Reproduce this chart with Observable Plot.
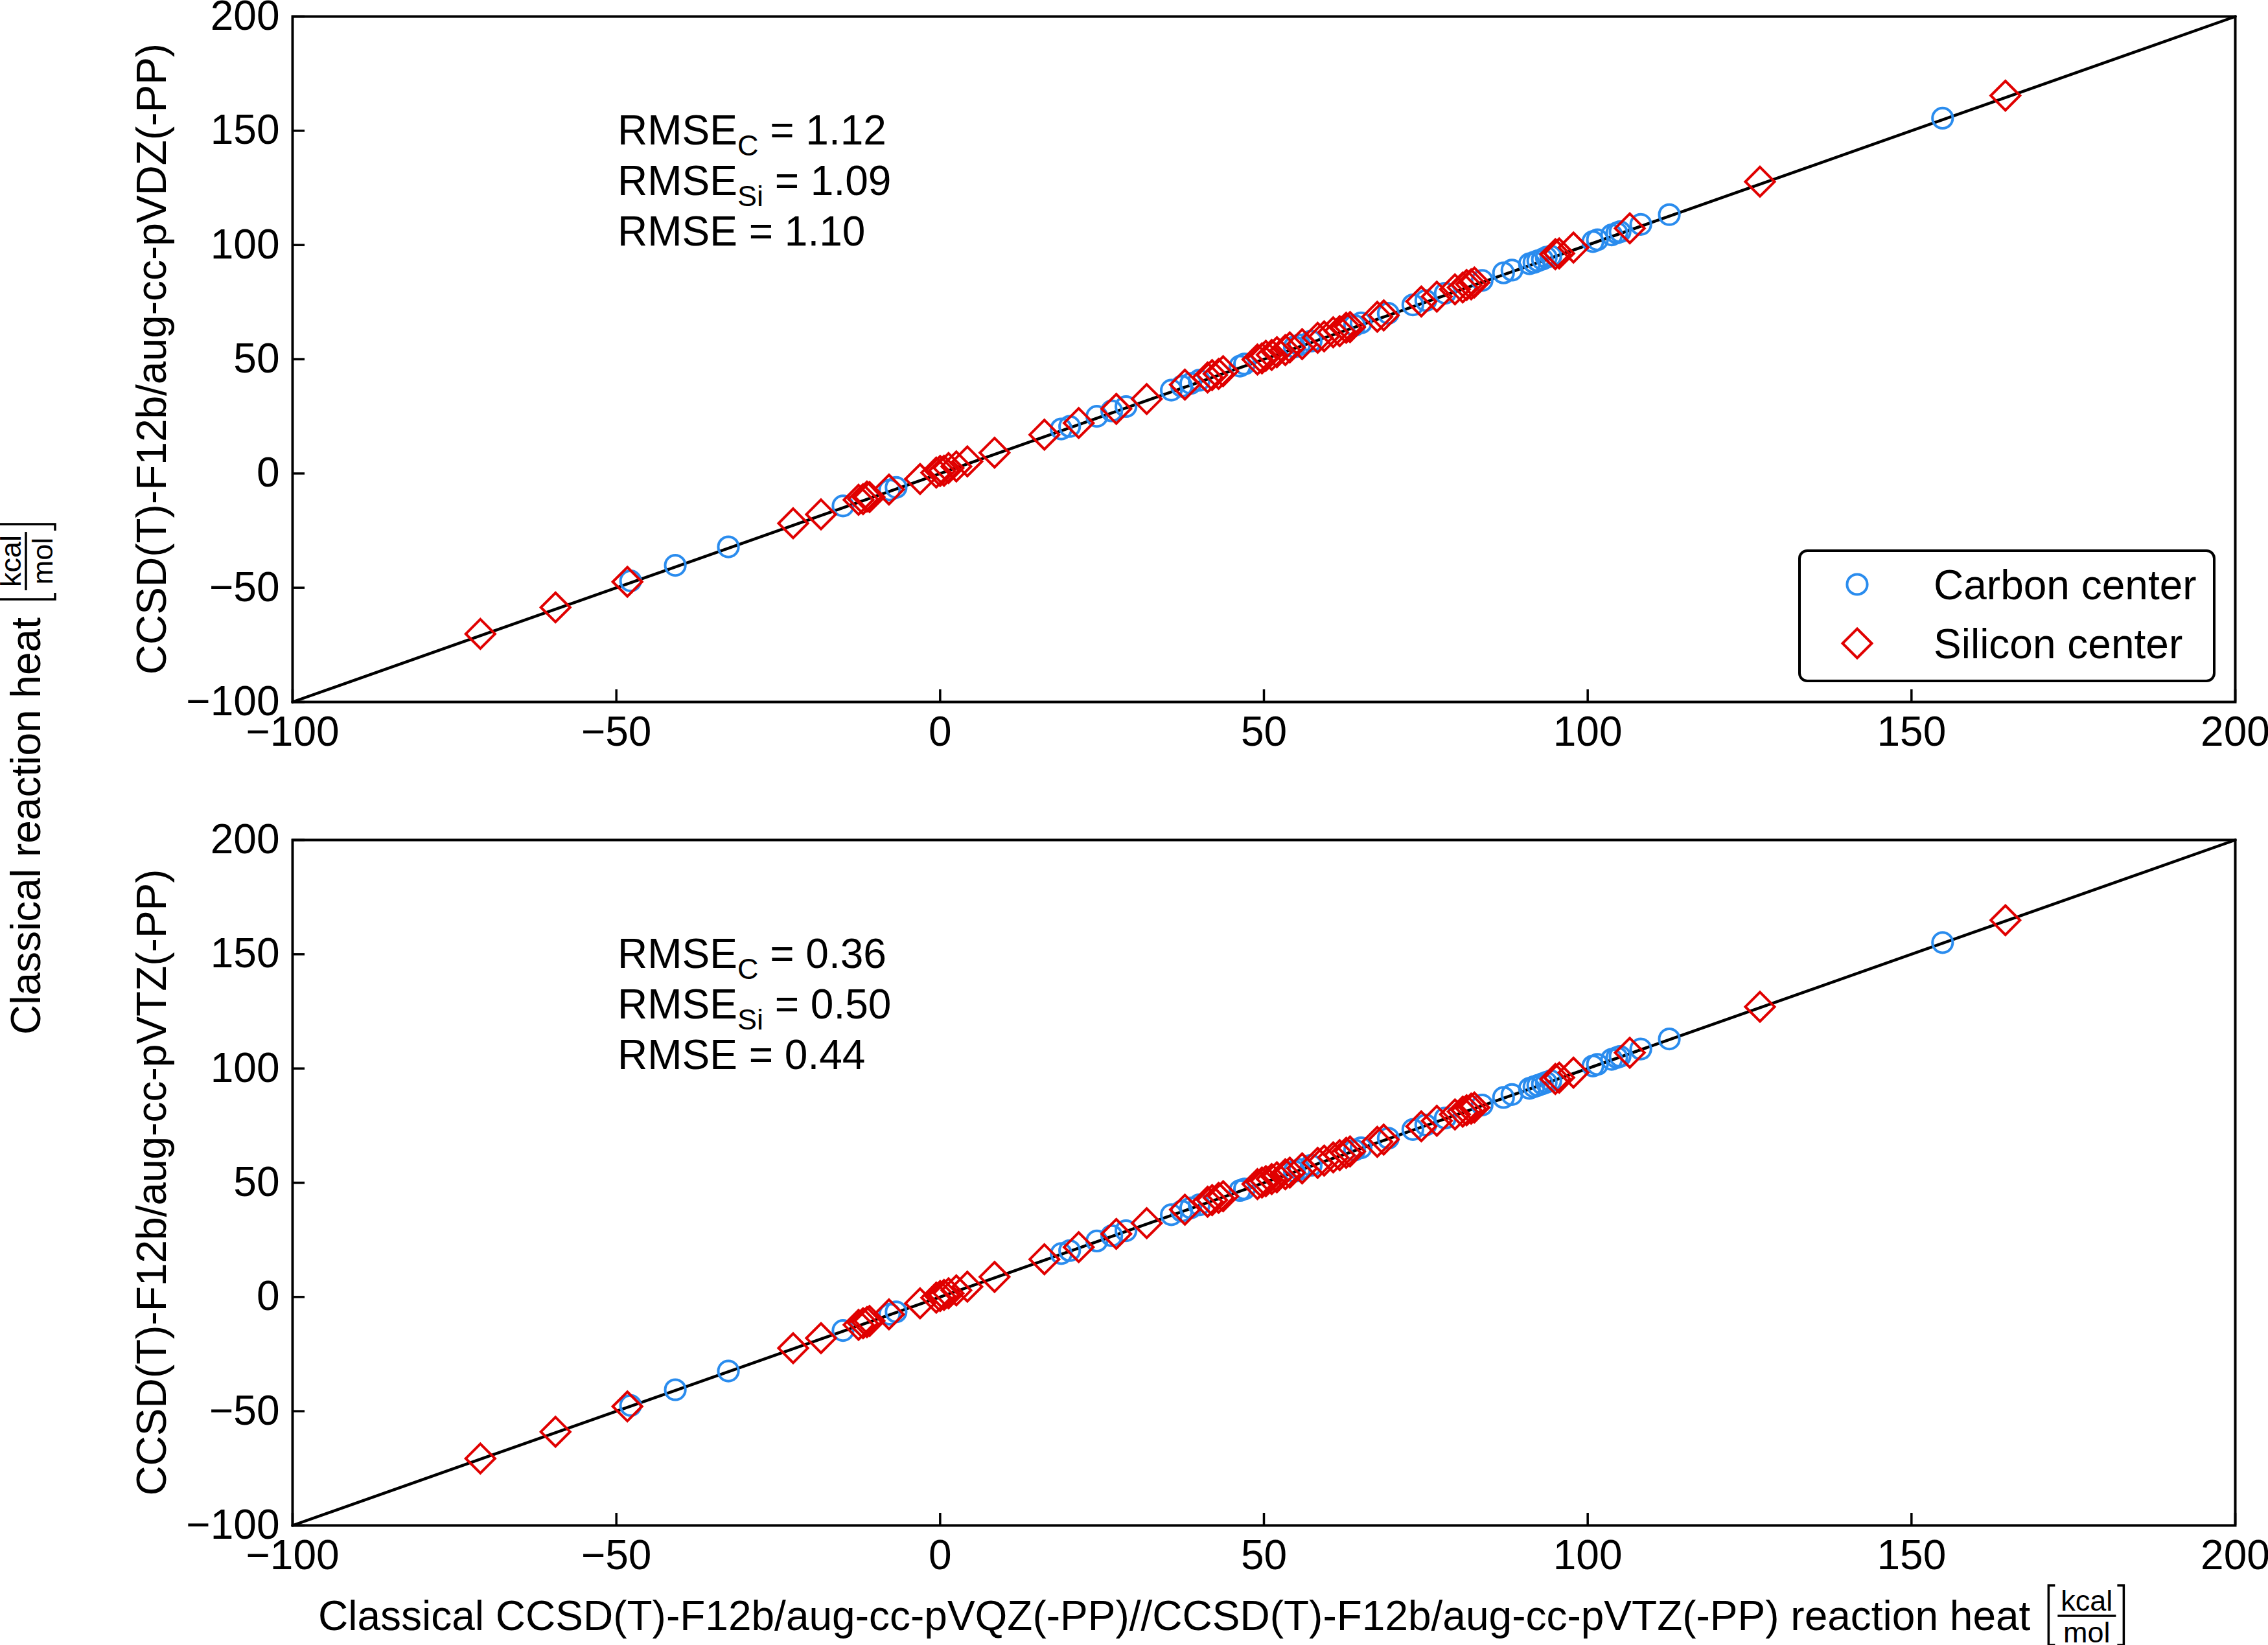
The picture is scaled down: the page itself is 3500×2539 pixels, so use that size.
<!DOCTYPE html>
<html>
<head>
<meta charset="utf-8">
<script src="https://cdn.jsdelivr.net/npm/d3@7"></script>
<script src="https://cdn.jsdelivr.net/npm/@observablehq/plot@0.6"></script>
<style>
  html, body { margin: 0; padding: 0; background: #fff; }
  #root { position: relative; width: 3500px; height: 2539px; background: #fff; }
  #root svg { position: absolute; left: 0; }
  text { white-space: pre; }
</style>
</head>
<body>
<div id="root"></div>
<script>
// ---------------- data ----------------
const axisDomain = [-100, 200];
const tickValues = [-100, -50, 0, 50, 100, 150, 200];
const seriesNames = ["Carbon center", "Silicon center"];

// reference (x) values: CCSD(T)-F12b/aug-cc-pVQZ(-PP)//aug-cc-pVTZ(-PP)
const carbonX = [-47.8, -40.9, -32.7, -15.0, -7.8, -6.8, 18.7, 20.0, 24.2, 26.5, 28.7, 35.7, 37.3, 38.7, 40.0, 46.3, 47.0, 54.7, 55.5, 57.3, 64.0, 65.0, 69.2, 73.0, 75.0, 78.0, 83.7, 87.0, 88.3, 91.0, 91.7, 92.3, 93.0, 93.6, 94.3, 100.8, 101.5, 103.7, 104.5, 105.0, 108.2, 112.6, 154.8];
// top panel: aug-cc-pVDZ(-PP)
const carbonYDZ = [-47.0, -40.2, -32.1, -14.2, -7.2, -6.1, 19.5, 20.6, 25.0, 27.4, 29.3, 36.5, 38.2, 39.4, 40.8, 47.0, 47.9, 55.4, 56.3, 58.0, 64.8, 65.9, 70.1, 73.8, 75.7, 78.9, 84.5, 87.8, 89.0, 91.8, 92.4, 93.1, 93.8, 94.6, 95.1, 101.5, 102.3, 104.4, 105.3, 105.8, 109.0, 113.3, 155.5];
// bottom panel: aug-cc-pVTZ(-PP)
const carbonYTZ = [-47.5, -40.6, -32.4, -14.7, -7.5, -6.5, 19.0, 20.3, 24.5, 26.8, 29.0, 36.0, 37.6, 39.0, 40.3, 46.6, 47.3, 55.0, 55.8, 57.6, 64.3, 65.3, 69.5, 73.3, 75.3, 78.3, 84.0, 87.3, 88.6, 91.3, 92.0, 92.6, 93.3, 93.9, 94.6, 101.1, 101.8, 104.0, 104.8, 105.3, 108.5, 112.9, 155.1];

const siliconX = [-71.0, -59.4, -48.3, -22.7, -18.4, -12.6, -11.9, -11.3, -10.9, -7.9, -3.1, -0.6, 0.0, 0.6, 1.3, 2.5, 4.2, 8.4, 16.1, 21.4, 27.2, 31.9, 37.8, 41.3, 42.0, 43.0, 43.7, 49.0, 49.7, 50.3, 51.2, 52.0, 53.3, 54.0, 55.9, 58.3, 59.3, 60.7, 61.7, 62.7, 63.3, 67.5, 68.5, 74.3, 76.7, 79.5, 80.7, 81.3, 82.0, 82.5, 95.0, 95.6, 97.8, 106.5, 126.6, 164.5];
const siliconYDZ = [-70.2, -58.6, -47.4, -21.8, -17.9, -11.5, -11.2, -10.1, -10.3, -7.0, -2.4, 0.4, 1.1, 1.2, 2.4, 3.1, 5.3, 9.1, 17.0, 22.1, 28.3, 32.6, 38.9, 42.0, 43.1, 43.6, 44.8, 49.9, 50.4, 51.5, 51.9, 53.1, 54.0, 55.2, 56.6, 59.4, 60.0, 61.8, 62.3, 63.8, 64.1, 68.6, 69.2, 75.3, 77.4, 80.6, 81.4, 82.5, 82.8, 83.6, 96.0, 96.3, 98.9, 107.3, 127.7, 165.4];
const siliconYTZ = [-70.7, -59.0, -47.9, -22.4, -18.0, -12.2, -11.5, -11.0, -10.5, -7.6, -2.8, -0.3, 0.4, 0.9, 1.6, 2.9, 4.5, 8.8, 16.5, 21.8, 27.6, 32.3, 38.2, 41.7, 42.4, 43.4, 44.1, 49.4, 50.1, 50.7, 51.6, 52.4, 53.7, 54.4, 56.3, 58.7, 59.7, 61.1, 62.1, 63.1, 63.7, 67.9, 68.9, 74.7, 77.1, 79.9, 81.1, 81.7, 82.4, 82.9, 95.4, 96.0, 98.2, 106.9, 127.0, 164.9];

const panelYLabels = ["CCSD(T)-F12b/aug-cc-pVDZ(-PP)", "CCSD(T)-F12b/aug-cc-pVTZ(-PP)"];
const rmseC = ["1.12", "0.36"];
const rmseSi = ["1.09", "0.50"];
const rmseAll = ["1.10", "0.44"];
const sharedYLabel = "Classical reaction heat";
const xLabel = "Classical CCSD(T)-F12b/aug-cc-pVQZ(-PP)//CCSD(T)-F12b/aug-cc-pVTZ(-PP) reaction heat";
const unitNum = "kcal", unitDen = "mol";

// ---------------- style / layout ----------------
const FONT = '"Liberation Sans", Arial, Helvetica, sans-serif';
const BLUE = "#2a8cee", RED = "#e00000";
const W = 3500, H = 2539;
const FS = 64, FS_SMALL = 45;
const PW = 3500, PH = 1200;
const M = {left: 451, right: 51, top: 25, bottom: 117};
const panelTops = [25, 1296];         // frame top of each panel
const frameH = PH - M.top - M.bottom; // 1058
const CIRCLE_R = 15.6, DIAMOND_R = 20.3;

const root = document.getElementById("root");

function makePanel(cy, sy) {
  const carbon = carbonX.map((x, i) => ({x, y: cy[i]}));
  const silicon = siliconX.map((x, i) => ({x, y: sy[i]}));
  const diag = axisDomain.map(v => ({x: v, y: v}));
  return Plot.plot({
    width: PW, height: PH,
    marginLeft: M.left, marginRight: M.right, marginTop: M.top, marginBottom: M.bottom,
    x: {domain: axisDomain, label: null},
    y: {domain: axisDomain, label: null},
    style: {background: "transparent", color: "black", fontFamily: FONT, fontSize: FS + "px", overflow: "visible"},
    marks: [
      Plot.line(diag, {x: "x", y: "y", stroke: "black", strokeWidth: 4.5}),
      Plot.dot(carbon, {x: "x", y: "y", symbol: "circle", r: CIRCLE_R, stroke: BLUE, strokeWidth: 4, fill: "none"}),
      Plot.dot(silicon, {x: "x", y: "y", symbol: "diamond2", r: DIAMOND_R, stroke: RED, strokeWidth: 4, fill: "none"}),
      Plot.frame({stroke: "black", strokeWidth: 4}),
      Plot.axisX({ticks: tickValues, tickSize: -19, tickPadding: 41, fontSize: FS, strokeWidth: 3.5, label: null}),
      Plot.axisY({ticks: tickValues, tickSize: -19, tickPadding: 39, fontSize: FS, strokeWidth: 3.5, label: null})
    ]
  });
}

const panels = [makePanel(carbonYDZ, siliconYDZ), makePanel(carbonYTZ, siliconYTZ)];
panels.forEach((p, k) => {
  p.style.top = (panelTops[k] - M.top) + "px";
  p.style.position = "absolute";
  p.style.left = "0px";
  p.style.maxWidth = "none";
  root.appendChild(p);
});

// ---------------- overlay annotations ----------------
const overlay = d3.create("svg")
  .attr("width", W).attr("height", H)
  .attr("font-family", FONT)
  .style("position", "absolute").style("left", "0px").style("top", "0px")
  .style("overflow", "visible");
root.appendChild(overlay.node());

function measure(str, size) {
  const t = overlay.append("text").attr("font-size", size).text(str);
  const w = t.node().getComputedTextLength();
  t.remove();
  return w;
}

const FRAC_GAP = 28;
// fraction [kcal/mol] drawn in local coordinates (baseline y=0), starting at x0; returns end x
function drawFraction(g, x0) {
  const axisY = -22;
  const nw = measure(unitNum, FS_SMALL), dw = measure(unitDen, FS_SMALL);
  const fw = Math.max(nw, dw) + 10;
  const bTop = axisY - 47, bBot = axisY + 45;
  const bl = x0 + FRAC_GAP;
  g.append("path").attr("d", `M${bl + 10},${bTop}H${bl}V${bBot}H${bl + 10}`)
    .attr("fill", "none").attr("stroke", "black").attr("stroke-width", 3.5);
  const fx = bl + 14;
  g.append("text").attr("x", fx + fw / 2).attr("y", axisY - 8).attr("text-anchor", "middle")
    .attr("font-size", FS_SMALL).text(unitNum);
  g.append("text").attr("x", fx + fw / 2).attr("y", axisY + 41).attr("text-anchor", "middle")
    .attr("font-size", FS_SMALL).text(unitDen);
  g.append("line").attr("x1", fx).attr("x2", fx + fw).attr("y1", axisY).attr("y2", axisY)
    .attr("stroke", "black").attr("stroke-width", 3.5);
  const br = fx + fw + 12;
  g.append("path").attr("d", `M${br - 10},${bTop}H${br}V${bBot}H${br - 10}`)
    .attr("fill", "none").attr("stroke", "black").attr("stroke-width", 3.5);
  return br;
}

// panel y labels
panelYLabels.forEach((lab, k) => {
  const cy = panelTops[k] + frameH / 2;
  overlay.append("text")
    .attr("transform", `translate(256,${cy}) rotate(-90)`)
    .attr("text-anchor", "middle").attr("font-size", FS).text(lab);
});

// RMSE annotations
panelTops.forEach((top, k) => {
  const x0 = 953;
  const rows = [
    {main: "RMSE", sub: "C", rest: " = " + rmseC[k], dy: 198},
    {main: "RMSE", sub: "Si", rest: " = " + rmseSi[k], dy: 276},
    {main: "RMSE = " + rmseAll[k], dy: 354}
  ];
  rows.forEach(r => {
    const t = overlay.append("text").attr("x", x0).attr("y", top + r.dy).attr("font-size", FS);
    t.append("tspan").text(r.main);
    if (r.sub) {
      t.append("tspan").attr("font-size", FS_SMALL).attr("dy", 17).text(r.sub);
      t.append("tspan").attr("dy", -17).text(r.rest);
    }
  });
});

// legend (top panel)
{
  const frameRight = W - M.right, frameBottom = panelTops[0] + frameH;
  const bw = 640, bh = 201;
  const bx = frameRight - 32 - bw, by = frameBottom - 32 - bh;
  const g = overlay.append("g");
  g.append("rect").attr("x", bx).attr("y", by).attr("width", bw).attr("height", bh)
    .attr("rx", 12).attr("fill", "white").attr("stroke", "black").attr("stroke-width", 4);
  const rowsY = [by + 52, by + 143];
  const mx = bx + 89;
  g.append("circle").attr("cx", mx).attr("cy", rowsY[0]).attr("r", CIRCLE_R)
    .attr("fill", "none").attr("stroke", BLUE).attr("stroke-width", 4);
  g.append("path").attr("transform", `translate(${mx},${rowsY[1]})`)
    .attr("d", d3.symbol(d3.symbolDiamond2, Math.PI * DIAMOND_R * DIAMOND_R)())
    .attr("fill", "none").attr("stroke", RED).attr("stroke-width", 4);
  seriesNames.forEach((s, i) => {
    g.append("text").attr("x", bx + 207).attr("y", rowsY[i] + 23).attr("font-size", FS).text(s);
  });
}

// shared y label (rotated) with unit fraction
{
  const g = overlay.append("g");
  const tl = measure(sharedYLabel, FS);
  const fracW = FRAC_GAP + 14 + Math.max(measure(unitNum, FS_SMALL), measure(unitDen, FS_SMALL)) + 10 + 12;
  const total = tl + fracW;
  const centerY = 1203;
  g.attr("transform", `translate(62,${centerY + total / 2}) rotate(-90)`);
  g.append("text").attr("x", 0).attr("y", 0).attr("font-size", FS).text(sharedYLabel);
  drawFraction(g, tl);
}

// x label with unit fraction
{
  const g = overlay.append("g").attr("transform", `translate(491,2516)`);
  const tl = measure(xLabel, FS);
  g.append("text").attr("x", 0).attr("y", 0).attr("font-size", FS).text(xLabel);
  drawFraction(g, tl);
}
</script>
</body>
</html>
